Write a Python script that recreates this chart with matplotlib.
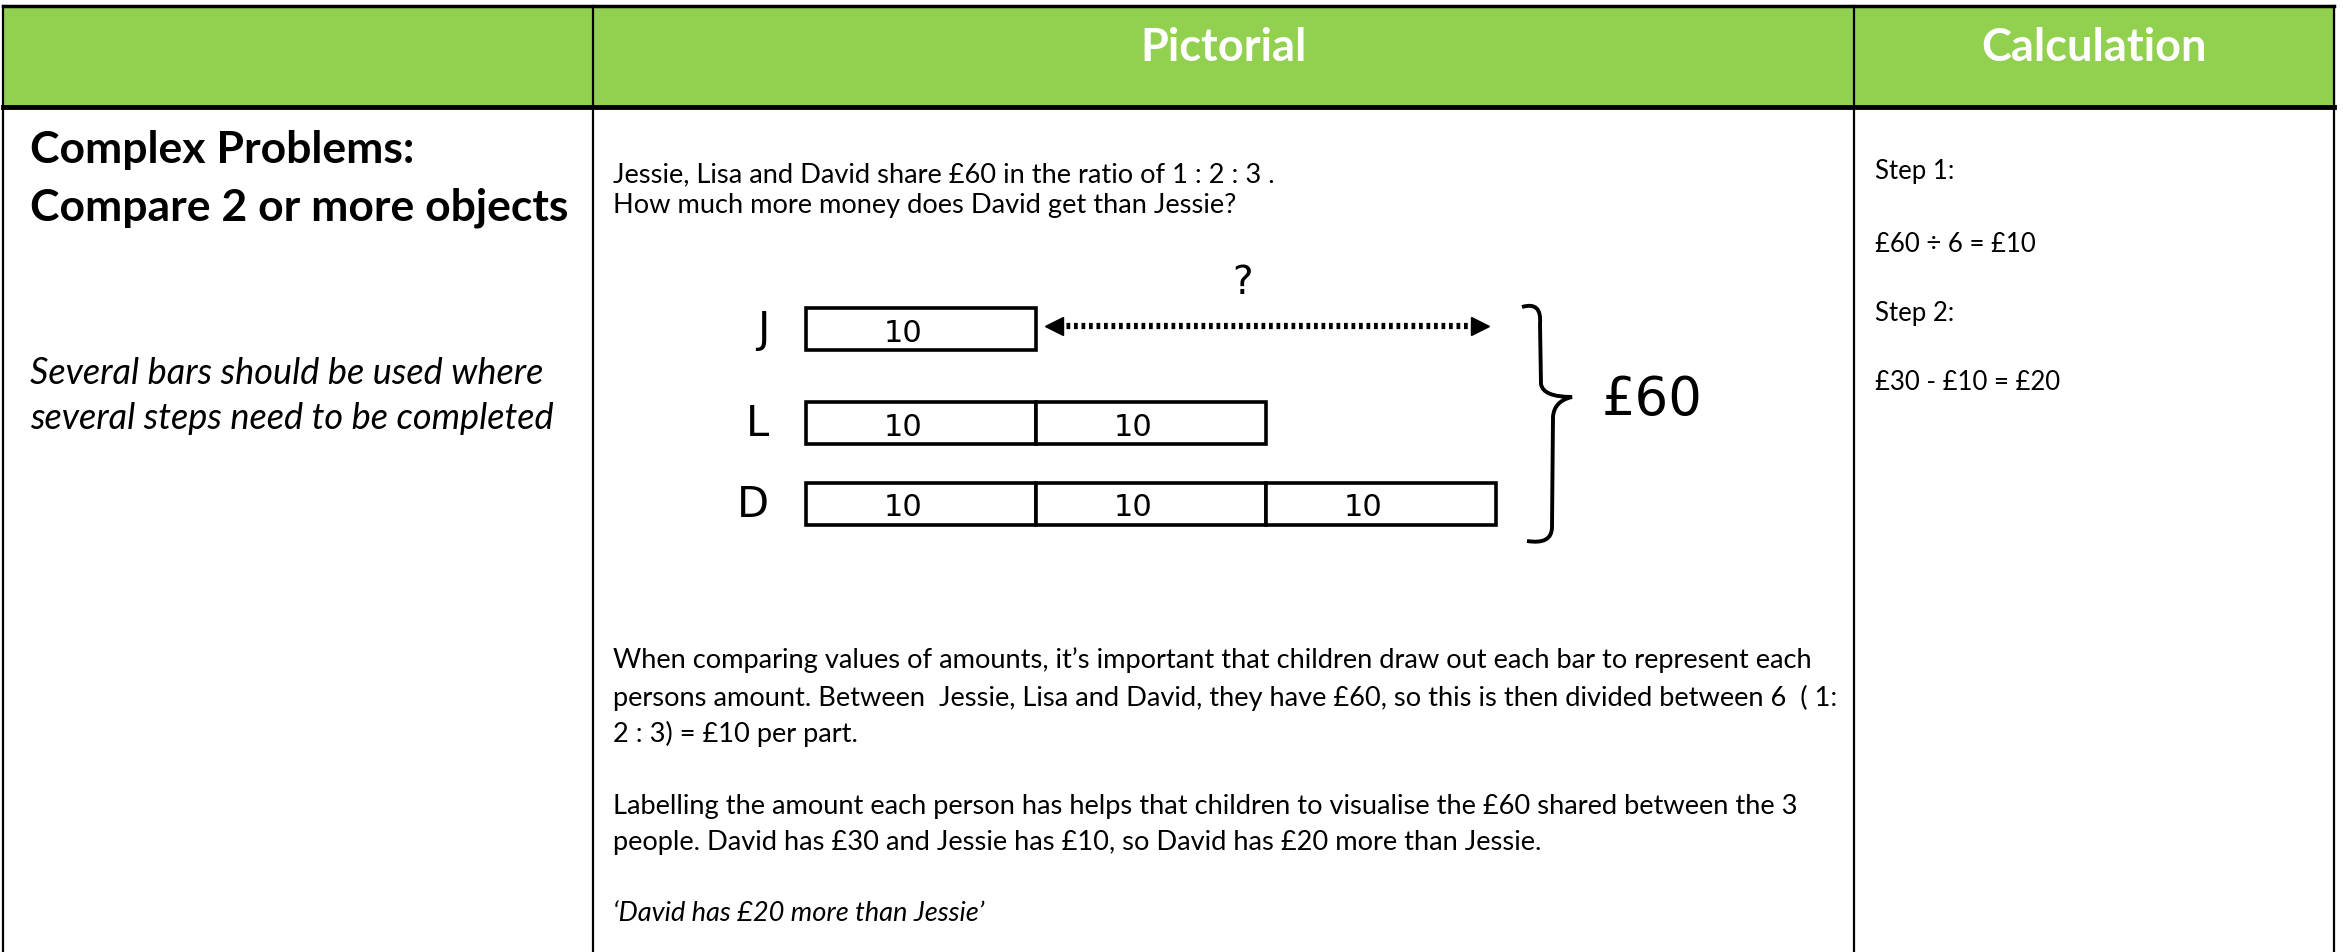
import matplotlib
matplotlib.use('Agg')
import matplotlib.pyplot as plt
from matplotlib.path import Path
from matplotlib.patches import PathPatch

# ---- content ----
header_labels = ['', 'Pictorial', 'Calculation']
heading_lines = ['Complex Problems:', 'Compare 2 or more objects']
note_lines = ['Several bars should be used where', 'several steps need to be completed']
question_lines = ['Jessie, Lisa and David share £60 in the ratio of 1 : 2 : 3 .',
                  'How much more money does David get than Jessie?']
explain_lines = [
    'When comparing values of amounts, it\u2019s important that children draw out each bar to represent each',
    'persons amount. Between  Jessie, Lisa and David, they have £60, so this is then divided between 6  ( 1:',
    '2 : 3) = £10 per part.',
    '',
    'Labelling the amount each person has helps that children to visualise the £60 shared between the 3',
    'people. David has £30 and Jessie has £10, so David has £20 more than Jessie.',
]
answer_line = '\u2018David has £20 more than Jessie\u2019'
calc_lines = ['Step 1:', '£60 ÷ 6 = £10', 'Step 2:', '£30 - £10 = £20']

# bar model data
people = ['J', 'L', 'D']
ratio = [1, 2, 3]
total = 60

# ---- layout (pixels) ----
W, H = 2343, 953
col_edges = [3, 593, 1854, 2334]
header_top, header_bottom = 7, 108
green = '#92D050'
FONT = 'Lato'

fig = plt.figure(figsize=(W / 100, H / 100), dpi=100)
ax = fig.add_axes([0, 0, 1, 1])
ax.set_xlim(0, W)
ax.set_ylim(H, 0)
ax.axis('off')

# header band
ax.fill_between([col_edges[0], col_edges[-1]], header_top, header_bottom, color=green, zorder=0)
for i, lab in enumerate(header_labels):
    if lab:
        ax.text((col_edges[i] + col_edges[i + 1]) / 2, 48, lab, ha='center', va='center',
                color='white', fontsize=32.5, fontweight='bold', family=FONT)

# grid lines
ax.plot([col_edges[0], col_edges[-1]], [header_top, header_top], color='black', lw=2.5)
ax.plot([col_edges[0], col_edges[-1]], [header_bottom, header_bottom], color='black', lw=3.5)
for x in col_edges:
    ax.plot([x, x], [header_top, H], color='black', lw=1.6)

# column 1
for y, s in zip([150, 208], heading_lines):
    ax.text(30, y, s, ha='left', va='center', fontsize=32, fontweight='bold', family=FONT)
for y, s in zip([374, 419], note_lines):
    ax.text(30, y, s, ha='left', va='center', fontsize=26, style='italic', family=FONT)

# column 2 text
TXT = 19.6
for y, s in zip([175, 206], question_lines):
    ax.text(613, y, s, ha='left', va='center', fontsize=TXT, family=FONT)
for y, s in zip([660, 698, 734, 770, 807, 843], explain_lines):
    if s:
        ax.text(613, y, s, ha='left', va='center', fontsize=TXT, family=FONT)
ax.text(613, 914, answer_line, ha='left', va='center', fontsize=TXT, style='italic', family=FONT)

# column 3
for y, s in zip([172, 244, 314, 383], calc_lines):
    ax.text(1875, y, s, ha='left', va='center', fontsize=18.5, family=FONT)

# ---- bar model (inset axes: x in pounds, y in pixels) ----
part = total / sum(ratio)
px_per_unit = 23.0
x0_px = 806
bx_left, bx_right, by_top, by_bottom = 700, 1800, 250, 560
bax = fig.add_axes([bx_left / W, 1 - by_bottom / H, (bx_right - bx_left) / W, (by_bottom - by_top) / H])
bax.set_xlim((bx_left - x0_px) / px_per_unit, (bx_right - x0_px) / px_per_unit)
bax.set_ylim(by_bottom - by_top, 0)
bax.axis('off')
bax.patch.set_alpha(0)

row_y = [80, 174, 255]  # row centres inside the inset
bar_h = 42
hand = dict(family='DejaVu Sans', fontweight='normal', color='black')
for name, n, y in zip(people, ratio, row_y):
    lefts = [k * part for k in range(n)]
    bax.barh([y] * n, [part] * n, left=lefts, height=bar_h, color='white',
             edgecolor='black', linewidth=2.6)
    for l in lefts:
        bax.text(l + part / 2 - 0.8, y + 3, f'{part:.0f}', ha='center', va='center', fontsize=22, **hand)
    bax.text(-1.6, y, name, ha='right', va='center', fontsize=30, **hand)

# difference arrow between Jessie and David
jessie_total = ratio[0] * part
david_total = ratio[2] * part
ay = row_y[0] - 3
bax.plot([jessie_total + 1.0, david_total - 0.9], [ay, ay], color='black', lw=4.5,
         linestyle=(0, (0.6, 0.6)))
bax.plot([jessie_total + 0.8], [ay], marker='<', color='black', markersize=13)
bax.plot([david_total - 0.7], [ay], marker='>', color='black', markersize=13)
bax.text((jessie_total + david_total) / 2 - 1.0, 33, '?', ha='center', va='center', fontsize=28, **hand)

# curly brace with total
verts = [(1522, 308), (1542, 302), (1540, 325), (1541, 385), (1543, 398), (1572, 398),
         (1554, 402), (1553, 418), (1552, 528), (1552, 546), (1527, 542)]
codes = [Path.MOVETO, Path.CURVE3, Path.CURVE3, Path.LINETO, Path.CURVE3, Path.CURVE3,
         Path.CURVE3, Path.CURVE3, Path.LINETO, Path.CURVE3, Path.CURVE3]
ax.add_patch(PathPatch(Path(verts, codes), fill=False, lw=2.8, edgecolor='black'))
ax.text(1602, 400, f'£{total}', ha='left', va='center', fontsize=38, **hand)

fig.savefig('out.png', dpi=100)
